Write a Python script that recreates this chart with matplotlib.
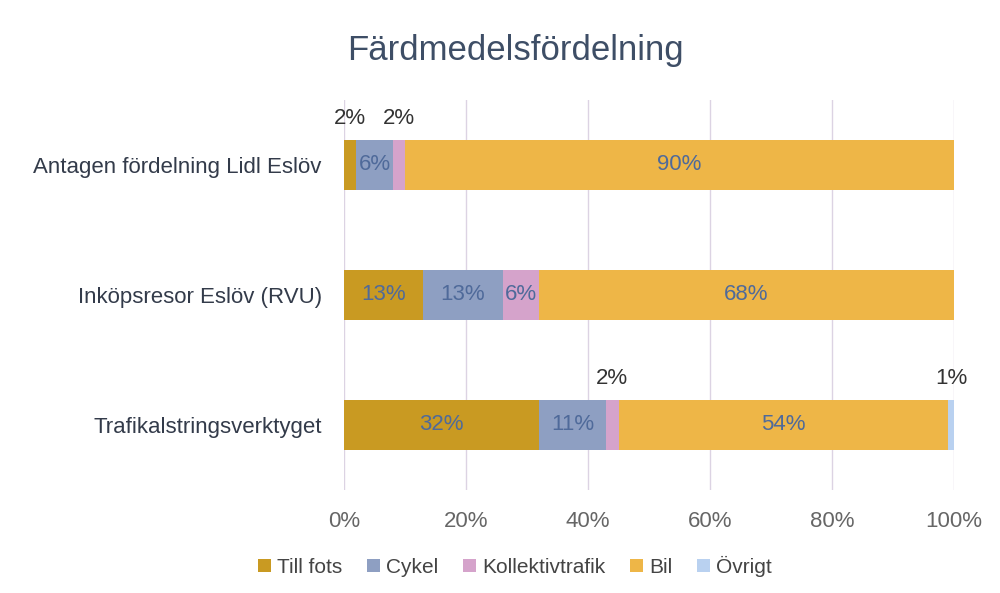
import matplotlib.pyplot as plt
import numpy as np

# Data
categories = ['Antagen fördelning Lidl Eslöv', 'Inköpsresor Eslöv (RVU)', 'Trafikalstringsverktyget']
series = ['Till fots', 'Cykel', 'Kollektivtrafik', 'Bil', 'Övrigt']
values = {
    'Till fots':       [2, 13, 32],
    'Cykel':           [6, 13, 11],
    'Kollektivtrafik': [2, 6, 2],
    'Bil':             [90, 68, 54],
    'Övrigt':          [0, 0, 1],
}
colors = ['#C99A22', '#8E9FC2', '#D5A3CB', '#EEB647', '#B9D1F0']
xticks = [0, 20, 40, 60, 80, 100]

plt.rcParams['font.family'] = ['Liberation Sans', 'DejaVu Sans']

fig = plt.figure(figsize=(10, 5.93), dpi=100)
ax = fig.add_axes([0.344, 0.1737, 0.61, 0.6577])

y = np.arange(len(categories))
left = np.zeros(len(categories))
for name, col in zip(series, colors):
    vals = np.array(values[name], dtype=float)
    ax.barh(y, vals, left=left, height=0.39, color=col, label=name, zorder=2)
    for i, v in enumerate(vals):
        if v <= 0:
            continue
        cx = left[i] + v / 2
        if v <= 2:
            # small segments get their label above the bar
            ax.text(cx, y[i] - 0.36, f'{int(v)}%', ha='center', va='center',
                    fontsize=16, color='#333333', zorder=3)
        else:
            ax.text(cx, y[i], f'{int(v)}%', ha='center', va='center',
                    fontsize=16, color='#4F6A9A', zorder=3)
    left += vals

ax.set_xlim(0, 100)
ax.set_ylim(2.5, -0.5)
ax.set_xticks(xticks)
ax.set_xticklabels([f'{t}%' for t in xticks], fontsize=16, color='#666666')
ax.set_yticks(y)
ax.set_yticklabels(categories, fontsize=16, color='#333b4a')
ax.tick_params(axis='both', length=0)
ax.tick_params(axis='x', pad=15)
ax.tick_params(axis='y', pad=16)
ax.grid(axis='x', color='#DCD3E3', linewidth=1, zorder=0)
for s in ax.spines.values():
    s.set_visible(False)

fig.text(0.515, 0.915, 'Färdmedelsfördelning', ha='center', va='center',
         fontsize=25, color='#3E4E66')

fig.legend(loc='center', bbox_to_anchor=(0.515, 0.045), ncol=5, frameon=False,
           fontsize=15, handlelength=0.6, handleheight=0.6, handletextpad=0.3,
           columnspacing=1.2, labelcolor='#444444')

plt.savefig('out.png', dpi=100)
